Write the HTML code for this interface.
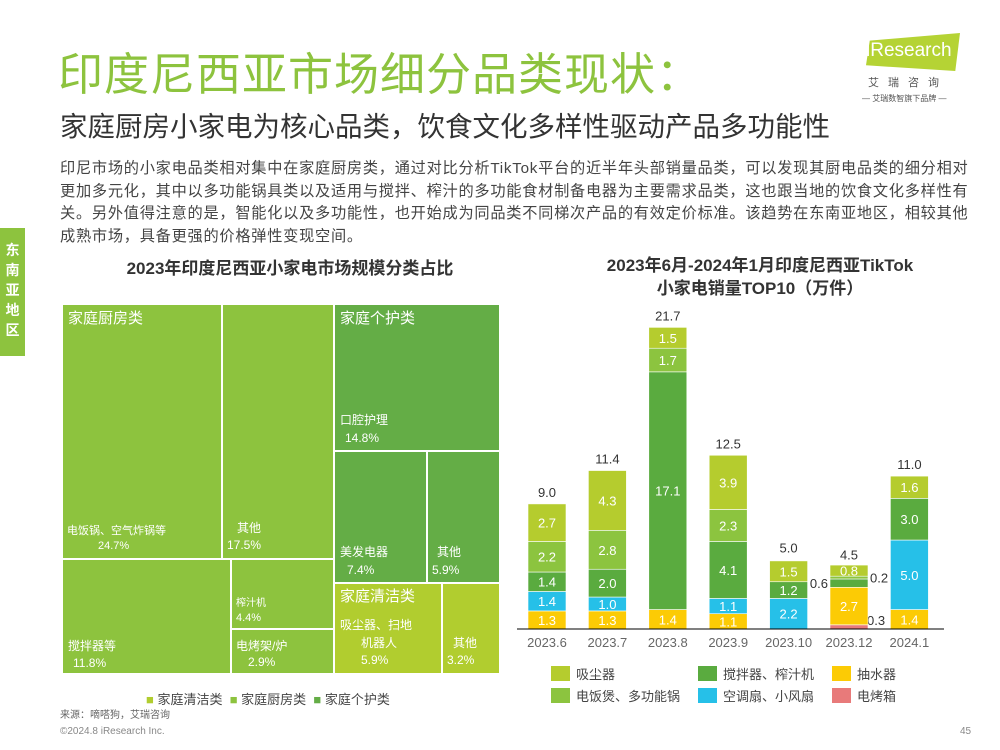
<!DOCTYPE html>
<html><head><meta charset="utf-8"><style>
body{margin:0;width:1000px;height:750px;background:#fff;position:relative;overflow:hidden;font-family:"Liberation Sans","Noto Sans CJK SC",sans-serif;}
.abs{position:absolute;}
.tm{position:absolute;color:#fff;box-sizing:border-box;}
.tm span{position:absolute;font-size:12px;line-height:16px;}
</style></head><body>
<div class="abs" style="left:58px;top:38px;font-size:45px;color:#8dc33e;white-space:nowrap;letter-spacing:1px">印度尼西亚市场细分品类现状：</div>
<div class="abs" style="left:60px;top:104px;font-size:27.5px;color:#333;white-space:nowrap">家庭厨房小家电为核心品类，饮食文化多样性驱动产品多功能性</div>
<div class="abs" style="left:866px;top:33px;width:94px;height:38px;background:#b5d334;clip-path:polygon(4% 20%,100% 0,95% 100%,0 85%)"></div>
<div class="abs" style="left:866px;top:40px;font-size:19px;color:#fff">iResearch</div>
<div class="abs" style="left:868px;top:74px;font-size:11px;color:#555;letter-spacing:9px">艾瑞咨询</div>
<div class="abs" style="left:862px;top:93px;font-size:8px;color:#555">— 艾瑞数智旗下品牌 —</div>
<div class="abs" style="left:60px;top:158px;font-size:15.2px;line-height:22.5px;color:#444;white-space:nowrap;letter-spacing:0.75px">印尼市场的小家电品类相对集中在家庭厨房类，通过对比分析TikTok平台的近半年头部销量品类，可以发现其厨电品类的细分相对<br>更加多元化，其中以多功能锅具类以及适用与搅拌、榨汁的多功能食材制备电器为主要需求品类，这也跟当地的饮食文化多样性有<br>关。另外值得注意的是，智能化以及多功能性，也开始成为同品类不同梯次产品的有效定价标准。该趋势在东南亚地区，相较其他<br>成熟市场，具备更强的价格弹性变现空间。</div>
<div class="abs" style="left:0;top:228px;width:25px;height:128px;background:#8dc33e;color:#fff;font-size:14px;font-weight:bold;line-height:20px;text-align:center;padding-top:12px;box-sizing:border-box">东<br>南<br>亚<br>地<br>区</div>
<div class="abs" style="left:60px;top:254px;width:460px;text-align:center;font-size:17px;font-weight:bold;color:#333">2023年印度尼西亚小家电市场规模分类占比</div>
<div class="abs" style="left:540px;top:254px;width:440px;text-align:center;font-size:17px;font-weight:bold;color:#333;line-height:23px">2023年6月-2024年1月印度尼西亚TikTok<br>小家电销量TOP10（万件）</div>

<div class="tm" style="left:63px;top:305px;width:158px;height:253px;background:#8dc33e"><span style="left:5px;top:6px;font-size:15px">家庭厨房类</span><span style="left:4px;top:218px;font-size:11px">电饭锅、空气炸锅等</span><span style="left:35px;top:233px;font-size:11px">24.7%</span></div>
<div class="tm" style="left:223px;top:305px;width:110px;height:253px;background:#8dc33e"><span style="left:14px;top:215px">其他</span><span style="left:4px;top:232px">17.5%</span></div>
<div class="tm" style="left:63px;top:560px;width:167px;height:113px;background:#8dc33e"><span style="left:5px;top:78px">搅拌器等</span><span style="left:10px;top:95px">11.8%</span></div>
<div class="tm" style="left:232px;top:560px;width:101px;height:68px;background:#8dc33e"><span style="left:4px;top:36px;font-size:10px">榨汁机</span><span style="left:4px;top:50px;font-size:11px">4.4%</span></div>
<div class="tm" style="left:232px;top:630px;width:101px;height:43px;background:#8dc33e"><span style="left:4px;top:8px">电烤架/炉</span><span style="left:16px;top:24px">2.9%</span></div>
<div class="tm" style="left:335px;top:305px;width:164px;height:145px;background:#64ad46"><span style="left:5px;top:6px;font-size:15px">家庭个护类</span><span style="left:5px;top:107px">口腔护理</span><span style="left:10px;top:125px">14.8%</span></div>
<div class="tm" style="left:335px;top:452px;width:91px;height:130px;background:#64ad46"><span style="left:5px;top:92px">美发电器</span><span style="left:12px;top:110px">7.4%</span></div>
<div class="tm" style="left:428px;top:452px;width:71px;height:130px;background:#64ad46"><span style="left:9px;top:92px">其他</span><span style="left:4px;top:110px">5.9%</span></div>
<div class="tm" style="left:335px;top:584px;width:106px;height:89px;background:#b1cd2f"><span style="left:5px;top:5px;font-size:15px">家庭清洁类</span><span style="left:5px;top:33px">吸尘器、扫地</span><span style="left:26px;top:51px">机器人</span><span style="left:26px;top:68px">5.9%</span></div>
<div class="tm" style="left:443px;top:584px;width:56px;height:89px;background:#b1cd2f"><span style="left:10px;top:51px">其他</span><span style="left:4px;top:68px">3.2%</span></div>

<div class="abs" style="left:146px;top:689px;font-size:13px;color:#444;white-space:nowrap"><span style="color:#b1cd2f">■</span> 家庭清洁类 &nbsp;<span style="color:#8dc33e">■</span> 家庭厨房类 &nbsp;<span style="color:#64ad46">■</span> 家庭个护类</div>
<div class="abs" style="left:60px;top:706px;font-size:10px;color:#666">来源：嘀嗒狗，艾瑞咨询</div>
<div class="abs" style="left:60px;top:726px;font-size:10px;color:#888">©2024.8 iResearch Inc.</div>
<div class="abs" style="left:960px;top:726px;font-size:10px;color:#888">45</div>

<svg class="abs" style="left:0;top:0" width="1000" height="750" id="chart"></svg>
<script>
const categories=["2023.6","2023.7","2023.8","2023.9","2023.10","2023.12","2024.1"];
const oven=[0,0,0,0,0,0.3,0];
const pump=[1.3,1.3,1.4,1.1,0,2.7,1.4];
const fan=[1.4,1.0,0,1.1,2.2,0,5.0];
const blender=[1.4,2.0,17.1,4.1,1.2,0.6,3.0];
const rice=[2.2,2.8,1.7,2.3,0,0.2,0];
const vacuum=[2.7,4.3,1.5,3.9,1.5,0.8,1.6];
const totals=[9.0,11.4,21.7,12.5,5.0,4.5,11.0];
const seriesNames=["电烤箱","抽水器","空调扇、小风扇","搅拌器、榨汁机","电饭煲、多功能锅","吸尘器"];
const series=[oven,pump,fan,blender,rice,vacuum];
const colors=["#e87a7a","#fccb05","#26c0e8","#5aab3f","#8cc43f","#b5cc2e"];
const svg=document.getElementById('chart');
const NS="http://www.w3.org/2000/svg";
const base=629,scale=13.9,x0=547,step=60.4,bw=38;
const y=v=>base-v*scale;
const xc=i=>x0+i*step;
function mk(t,a){const e=document.createElementNS(NS,t);for(const k in a)e.setAttribute(k,a[k]);svg.appendChild(e);return e;}
categories.forEach((c,i)=>{
  let cum=0;
  series.forEach((s,j)=>{
    const v=s[i];if(!v)return;
    const r=mk('rect',{x:xc(i)-bw/2,y:y(cum+v),width:bw,height:v*scale,fill:colors[j],stroke:'#fff','stroke-width':0.6});
    
    
    const cy=y(cum+v/2)+5;
    let lx=xc(i),anchor='middle',col='#fff';
    if(v<0.5){
      if(j===0){lx=xc(i)+18;anchor='start';col='#333';}
      else{lx=xc(i)+bw/2+2;anchor='start';col='#333';}
    }else if(i===5&&j===3){lx=xc(i)-bw/2-2;anchor='end';col='#333';}
    const t=mk('text',{x:lx,y:(i===5&&j===0)?base-4:cy,'text-anchor':anchor,'font-size':13,fill:col});
    t.textContent=v.toFixed(1);
    
    
    cum+=v;
  });
  const tt=mk('text',{x:xc(i),y:y(totals[i])-7,'text-anchor':'middle','font-size':13,fill:'#333'});
  tt.textContent=totals[i].toFixed(1);
  
  
  const xl=mk('text',{x:xc(i),y:base+18,'text-anchor':'middle','font-size':13,fill:'#666'});
  xl.textContent=c;
  
  
});
const ax=mk('line',{x1:517,x2:944,y1:base,y2:base,stroke:'#000','stroke-width':1});


const legendOrder=[5,3,1,4,2,0];
legendOrder.forEach((j,k)=>{
  const col=k%3,row=Math.floor(k/3);
  const lx=[551,698,832][col],ly=666+row*22;
  const r=mk('rect',{x:lx,y:ly,width:19,height:15,fill:colors[j]});
  
  
  const t=mk('text',{x:lx+25,y:ly+13,'font-size':13,fill:'#444'});
  t.textContent=seriesNames[j];
  
  
});
</script>
</body></html>
